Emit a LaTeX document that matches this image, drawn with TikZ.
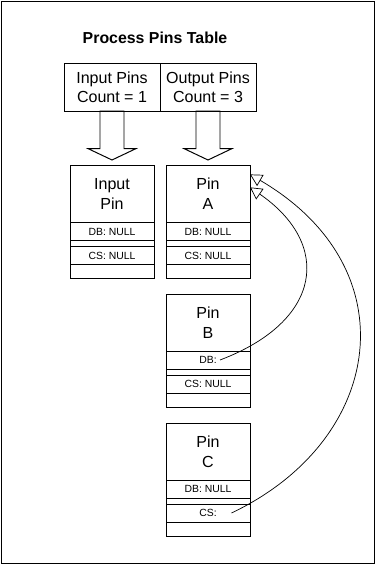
\documentclass[tikz,border=0pt]{standalone}
\usepackage{fontspec}
\setmainfont{Liberation Sans}
\usetikzlibrary{arrows.meta,calc,positioning}
\tikzset{
 tablecell/.style={draw,line width=0.7pt,minimum width=2.4cm,minimum height=1.2cm,
  inner sep=0pt,outer sep=0pt,align=center,font=\fontsize{11.4}{13.6}\selectfont},
 pinhead/.style={draw,line width=0.7pt,minimum width=2.1cm,minimum height=1.425cm,
  inner sep=0pt,outer sep=0pt,align=center,font=\fontsize{11.4}{14.2}\selectfont},
 pinrow/.style={draw,line width=0.7pt,minimum width=2.1cm,minimum height=#1,
  inner sep=0pt,outer sep=0pt,font=\fontsize{7.4}{8}\selectfont},
 pinrow/.default=0.45cm,
 pinlink/.style={-{Triangle[open,length=0.3cm,width=0.32cm]},line width=0.5pt}
}
\begin{document}
\begin{tikzpicture}[line join=miter]
 \useasboundingbox (0,0) rectangle (9.4,-14.125);
 \draw[line width=0.7pt] (0.025,-0.025) rectangle (9.35,-14.075);
 \node[font=\bfseries\fontsize{11.3}{13}\selectfont] (title) at (3.875,-0.95) {Process Pins Table};
 % process pins table
 \node[tablecell] (inCell) at (2.8,-2.175) {Input Pins\\Count = 1};
 \node[tablecell,right=0pt of inCell] (outCell) {Output Pins\\Count = 3};
 \foreach \c in {inCell,outCell}
  \draw[line width=0.7pt] ($(\c.south)+(-0.3,0)$) -- ++(0,-0.94) -- ++(-0.3,0)
   -- ($(\c.south)+(0,-1.225)$) -- ($(\c.south)+(0.6,-0.94)$) -- ++(-0.3,0)
   -- ++(0,0.94) -- cycle;
 % input pin
 \node[pinhead,below=1.3625cm of inCell] (inPin) {Input\\Pin};
 \node[pinrow,below=0pt of inPin] (inDB) {DB: NULL};
 \node[pinrow=0.15cm,below=0pt of inDB] (inGap) {};
 \node[pinrow,below=0pt of inGap] (inCS) {CS: NULL};
 \node[pinrow=0.35cm,below=0pt of inCS] (inEnd) {};
 % pin A
 \node[pinhead,below=1.3625cm of outCell] (pinA) {Pin\\A};
 \node[pinrow,below=0pt of pinA] (aDB) {DB: NULL};
 \node[pinrow=0.15cm,below=0pt of aDB] (aGap) {};
 \node[pinrow,below=0pt of aGap] (aCS) {CS: NULL};
 \node[pinrow=0.35cm,below=0pt of aCS] (aEnd) {};
 % pin B
 \node[pinhead,below=0.3875cm of aEnd] (pinB) {Pin\\B};
 \node[pinrow,below=0pt of pinB] (bDB) {DB:};
 \node[pinrow=0.15cm,below=0pt of bDB] (bGap) {};
 \node[pinrow,below=0pt of bGap] (bCS) {CS: NULL};
 \node[pinrow=0.35cm,below=0pt of bCS] (bEnd) {};
 % pin C
 \node[pinhead,below=0.4cm of bEnd] (pinC) {Pin\\C};
 \node[pinrow,below=0pt of pinC] (cDB) {DB: NULL};
 \node[pinrow=0.15cm,below=0pt of cDB] (cGap) {};
 \node[pinrow,below=0pt of cGap] (cCS) {CS:};
 \node[pinrow=0.35cm,below=0pt of cCS] (cEnd) {};
 % links back to pin A
 \coordinate (bLink) at ($(bDB.center)+(0.3,0)$);
 \coordinate (cLink) at ($(cCS.center)+(0.5875,0)$);
 \draw[pinlink] (bLink) .. controls (8.075,-8.025) and (8.3,-6.1) .. (pinA.9.5);
 \draw[pinlink] (cLink) .. controls (9.625,-11.0) and (10.25,-6.7) .. (pinA.25.5);
\end{tikzpicture}
\end{document}
